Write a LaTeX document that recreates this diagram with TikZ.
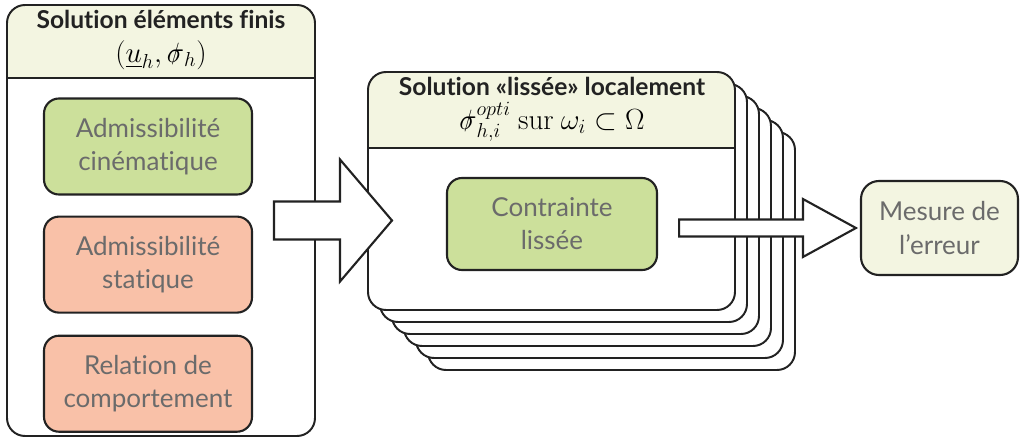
\documentclass[tikz,border=0pt]{standalone}
\usepackage{amsmath}
\usepackage[no-math]{fontspec}
\setmainfont[Ligatures=NoCommon]{Lato}
\usetikzlibrary{positioning,calc}

\newlength\px \setlength\px{0.025cm}
\definecolor{creme}{HTML}{F3F5E1}
\definecolor{vert}{HTML}{CCE09B}
\definecolor{saumon}{HTML}{F9C1A8}
\definecolor{gristexte}{HTML}{6B6B6B}
\definecolor{trait}{HTML}{222222}
% sigma barre (tenseur)
\newcommand{\sigt}{\mathord{\ooalign{$\sigma$\cr\hidewidth\raisebox{0.15ex}{\scalebox{0.6}[0.75]{$/$}}\hidewidth\cr}}}

% grosse fleche blanche : queue, pointe, demi-corps, demi-tete, longueur tete
\newcommand{\grossefleche}[5]{%
  \draw[fleche] ($(#1|-#2)+(0,-#3)$) -- ($(#2)+(-#5,-#3)$) -- ($(#2)+(-#5,-#4)$)
    -- (#2) -- ($(#2)+(-#5,#4)$) -- ($(#2)+(-#5,#3)$) -- ($(#1|-#2)+(0,#3)$) -- cycle;}

\tikzset{
  bloc/.style={draw=trait, line width=1.5pt, rounded corners=15\px,
    minimum width=208\px, minimum height=96\px, align=center,
    text=gristexte, font=\fontsize{18.5}{23.5}\selectfont},
  carte/.style={draw=trait, line width=1.4pt, rounded corners=18\px, fill=white,
    inner sep=0pt, minimum width=367\px, minimum height=238\px},
  cadre/.style={carte, path picture={
      \fill[creme, sharp corners] (path picture bounding box.north west)
        rectangle ([yshift=-#1]path picture bounding box.north east);
      \draw[trait, line width=1.4pt, sharp corners] ([yshift=-#1]path picture bounding box.north west)
        -- ([yshift=-#1]path picture bounding box.north east);}},
  titre/.style={font=\bfseries\fontsize{17.5}{19}\selectfont, text=trait, anchor=base},
  formule/.style={font=\fontsize{20}{22}\selectfont, anchor=base},
  fleche/.style={draw=trait, line width=1.5pt, fill=white, line join=miter},
}

\begin{document}
\begin{tikzpicture}[x=0.025cm, y=-0.025cm]
  \useasboundingbox (0,0) rectangle (1021,441);

  % solution EF
  \node[cadre=73\px, minimum width=308\px, minimum height=431\px] (fem) at (161,220.5) {};
  \node[titre] (tfem) at (161,28) {Solution éléments finis};
  \node[formule] (mfem) at (161,62) {$(\underline{u}_h,\sigt_h)$};

  \node[bloc, fill=vert] (cin) at (148,146.5) {Admissibilité\\cinématique};
  \node[bloc, fill=saumon, below=20\px of cin] (sta) {Admissibilité\\statique};
  \node[bloc, fill=saumon, below=21\px of sta] (rdc) {Relation de\\comportement};

  % pile des problemes locaux
  \foreach \i in {5,4,...,1}
    \node[carte] (c\i) at ({551.5+12*\i},{191+12*\i}) {};
  \node[cadre=76\px] (c0) at (551.5,191) {};
  \node[titre] (tloc) at (552,95) {Solution «lissée» localement};
  \node[formule] (mloc) at (552,129) {$\sigt_{h,i}^{opti}\ \mathrm{sur}\ \omega_i\subset\Omega$};

  \node[bloc, fill=vert, minimum width=210\px, minimum height=92\px] (lis) at (552,224) {Contrainte\\lissée};

  \node[bloc, fill=creme, minimum width=157\px, minimum height=94\px, rounded corners=18\px]
    (err) at (939.5,228) {Mesure de\\l’erreur};

  % fleches
  \coordinate (q1) at ($(fem.east)+(-42,0)$);
  \coordinate (p1) at ($(c0.west |- fem.east)+(25,0)$);
  \grossefleche{q1}{p1}{19}{61}{52}
  \coordinate (q2) at ($(lis.east)+(21,0)$);
  \coordinate (p2) at ($(err.west)+(-4,0)$);
  \grossefleche{q2}{p2}{8.5}{29}{53}
\end{tikzpicture}
\end{document}
